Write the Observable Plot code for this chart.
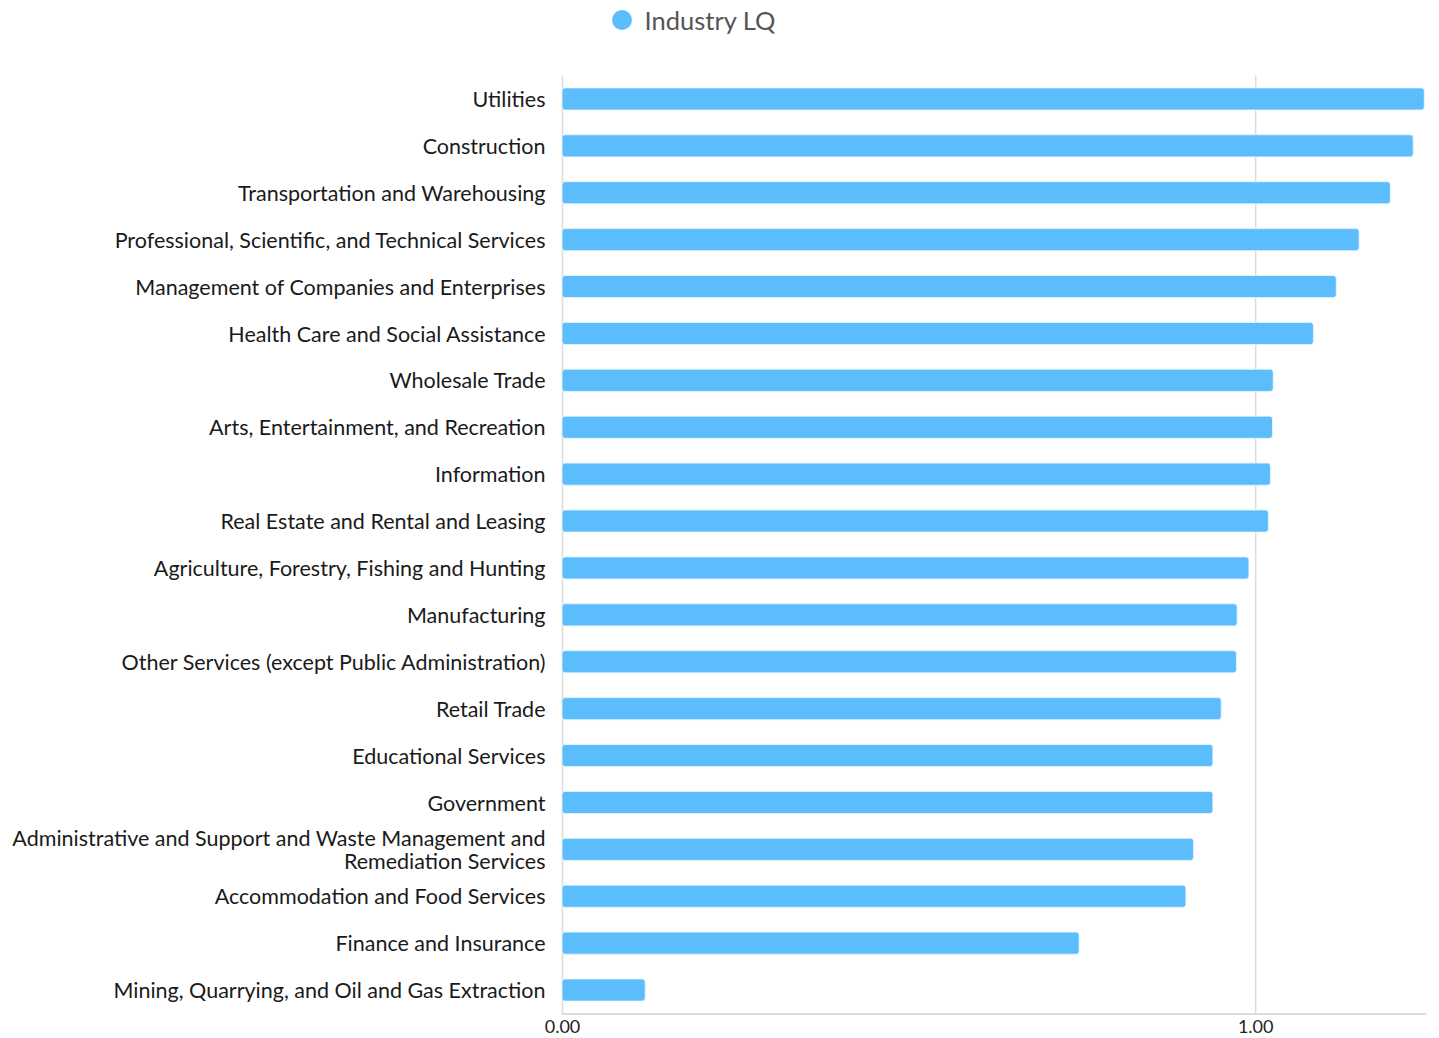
<!DOCTYPE html>
<html>
<head>
<meta charset="utf-8">
<script src="https://cdn.jsdelivr.net/npm/d3@7"></script>
<script src="https://cdn.jsdelivr.net/npm/@observablehq/plot@0.6"></script>
<style>
  html, body { margin: 0; padding: 0; background: #fff; }
  body { width: 1439px; height: 1038px; overflow: hidden; font-family: Lato, "Open Sans", sans-serif; }
  #legend { height: 44px; display: flex; align-items: center; justify-content: center; box-sizing: border-box; }
  #legend .item { display: flex; align-items: center; position: relative; left: -26px; top: -2px; }
  #legend .dot { width: 20px; height: 20px; border-radius: 50%; background: #5cbdfd; margin-right: 13px; }
  #legend .lab { font-size: 25.5px; color: #555; font-family: Lato, sans-serif; }
</style>
</head>
<body>
<div id="legend"><div class="item"><div class="dot"></div><div class="lab">Industry LQ</div></div></div>
<div id="chart"></div>
<script>
const industries = [
  "Utilities",
  "Construction",
  "Transportation and Warehousing",
  "Professional, Scientific, and Technical Services",
  "Management of Companies and Enterprises",
  "Health Care and Social Assistance",
  "Wholesale Trade",
  "Arts, Entertainment, and Recreation",
  "Information",
  "Real Estate and Rental and Leasing",
  "Agriculture, Forestry, Fishing and Hunting",
  "Manufacturing",
  "Other Services (except Public Administration)",
  "Retail Trade",
  "Educational Services",
  "Government",
  "Administrative and Support and Waste Management and Remediation Services",
  "Accommodation and Food Services",
  "Finance and Insurance",
  "Mining, Quarrying, and Oil and Gas Extraction"
];
const lq = [1.244, 1.228, 1.195, 1.150, 1.117, 1.084, 1.026, 1.025, 1.022, 1.019,
            0.991, 0.974, 0.973, 0.951, 0.939, 0.939, 0.911, 0.900, 0.746, 0.120];
const xTicks = [0, 1];

const data = industries.map((name, i) => ({name, value: lq[i]}));

const labelFormat = d => d === "Administrative and Support and Waste Management and Remediation Services"
  ? "Administrative and Support and Waste Management and\nRemediation Services" : d;

const chart = Plot.plot({
  width: 1439,
  height: 994,
  marginTop: 31.5,
  marginBottom: 24.5,
  marginLeft: 562,
  marginRight: 14,
  style: {fontFamily: "Lato, sans-serif", background: "#fff"},
  x: {domain: [0, 1.245], axis: null},
  y: {domain: industries, padding: 0, round: false, axis: null},
  marks: [
    Plot.ruleX(xTicks.slice(1), {stroke: "#dcdcdc", strokeWidth: 1.5}),
    Plot.ruleX([0], {stroke: "#dcdcdc", strokeWidth: 1.5}),
    Plot.frame({anchor: "bottom", stroke: "#d0d0d0", strokeWidth: 1.5}),
    Plot.barX(data, {x: "value", y: "name", fill: "#5cbdfd", rx: 3, insetTop: 12.4, insetBottom: 12.4,
      stroke: "#eaf6ff", strokeWidth: 0.8}),
    Plot.axisY({
      tickSize: 0, tickPadding: 17, fontSize: 21.5, lineHeight: 1.1,
      tickFormat: labelFormat, fill: "#1a1a1a", label: null
    }),
    Plot.axisX({
      ticks: xTicks, tickSize: 0, tickPadding: 6, fontSize: 18,
      tickFormat: d3.format(".2f"), fill: "#222", label: null
    })
  ]
});
document.getElementById("chart").appendChild(chart);
</script>
</body>
</html>
